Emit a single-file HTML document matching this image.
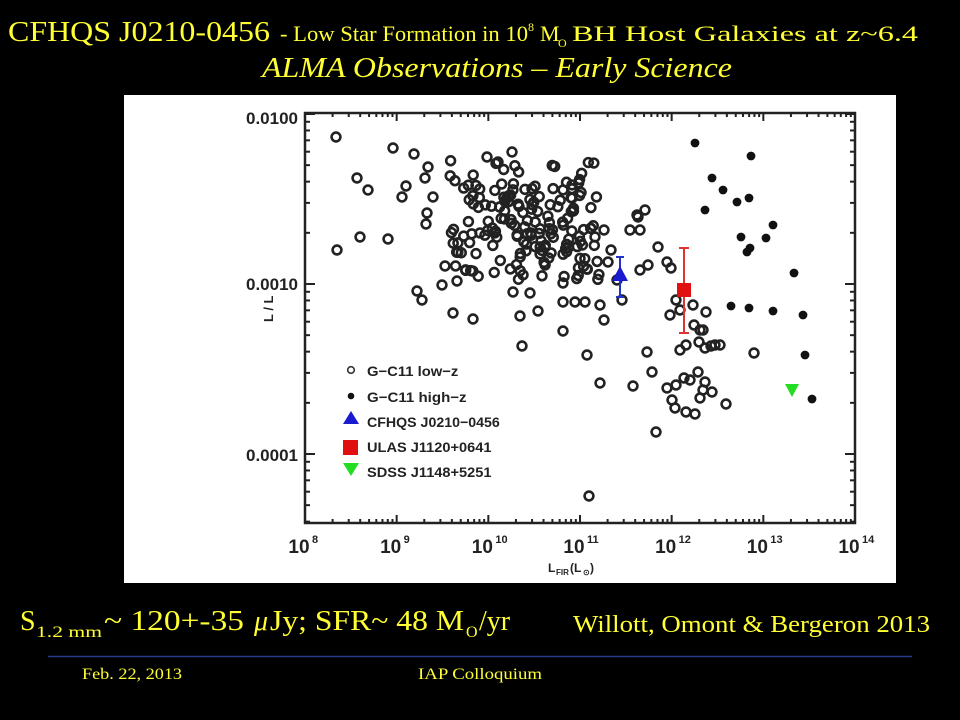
<!DOCTYPE html>
<html><head><meta charset="utf-8"><style>
html,body{margin:0;padding:0;background:#000;width:960px;height:720px;overflow:hidden}
svg{display:block}
.t{font-family:"Liberation Serif",serif;fill:#ffff33}
.a{font-family:"Liberation Sans",sans-serif;font-weight:bold;fill:#222}
</style></head><body>
<svg id="s" width="960" height="720" viewBox="0 0 960 720" xmlns="http://www.w3.org/2000/svg">
<rect width="960" height="720" fill="#000"/>
<text class="t" x="8" y="41" font-size="28" textLength="262" lengthAdjust="spacingAndGlyphs">CFHQS J0210-0456</text>
<text class="t" x="280" y="41" font-size="22" textLength="248" lengthAdjust="spacingAndGlyphs">- Low Star Formation in 10</text>
<text class="t" x="528" y="31" font-size="12">8</text>
<text class="t" x="540" y="41" font-size="22">M</text>
<text class="t" x="558" y="47" font-size="12">O</text>
<text class="t" x="572" y="41" font-size="22" textLength="346" lengthAdjust="spacingAndGlyphs">BH Host Galaxies at z~6.4</text>
<text class="t" x="262" y="77" font-size="28" font-style="italic" textLength="470" lengthAdjust="spacingAndGlyphs">ALMA Observations – Early Science</text>
<rect x="124" y="95" width="772" height="488" fill="#fff"/>
<g id="plot"></g>
<text class="t" x="20" y="630" font-size="28">S</text>
<text class="t" x="36" y="637" font-size="16" textLength="66" lengthAdjust="spacingAndGlyphs">1.2 mm</text>
<text class="t" x="104" y="630" font-size="28" textLength="140" lengthAdjust="spacingAndGlyphs">~ 120+-35</text>
<text class="t" x="254" y="630" font-size="28" font-style="italic">μ</text>
<text class="t" x="270" y="630" font-size="28" textLength="194" lengthAdjust="spacingAndGlyphs">Jy;  SFR~ 48 M</text>
<text class="t" x="466" y="637" font-size="16">O</text>
<text class="t" x="479" y="630" font-size="28">/yr</text>
<text class="t" x="573" y="632" font-size="24" textLength="357" lengthAdjust="spacingAndGlyphs">Willott, Omont &amp; Bergeron 2013</text>
<line x1="48" y1="656.5" x2="912" y2="656.5" stroke="#2a3a8a" stroke-width="1.5"/>
<text class="t" x="82" y="679" font-size="16" textLength="100" lengthAdjust="spacingAndGlyphs">Feb. 22, 2013</text>
<text class="t" x="418" y="679" font-size="16" textLength="124" lengthAdjust="spacingAndGlyphs">IAP Colloquium</text>
</svg>
<script>
var NS="http://www.w3.org/2000/svg",g=document.getElementById("plot");
function el(n,a,p){var e=document.createElementNS(NS,n);for(var k in a)e.setAttribute(k,a[k]);(p||g).appendChild(e);return e;}
var L=305,R=855,T=113,B=523,dx=(R-L)/6;
function yv(lv){return 284-(lv+3)*170;}
for(var d=0;d<6;d++){for(var m=1;m<10;m++){var x=L+dx*(d+Math.log10(m));var h=m==1?8:4;
el("line",{x1:x,y1:B,x2:x,y2:B-h,stroke:"#222","stroke-width":2});el("line",{x1:x,y1:T,x2:x,y2:T+h,stroke:"#222","stroke-width":2});}}
for(var e=-6;e<-1;e++){for(var m=1;m<10;m++){var y=yv(e+Math.log10(m));if(y<T||y>B)continue;var h=m==1?10:5;
el("line",{x1:L,y1:y,x2:L+h,y2:y,stroke:"#222","stroke-width":2});el("line",{x1:R,y1:y,x2:R-h,y2:y,stroke:"#222","stroke-width":2});}}
el("rect",{x:L,y:T,width:R-L,height:B-T,fill:"none",stroke:"#222","stroke-width":2.5});
var yl=[["0.0100",124],["0.0010",290],["0.0001",461]];
yl.forEach(function(a){var t=el("text",{x:298,y:a[1],"class":"a","font-size":17,"text-anchor":"end"});t.textContent=a[0];});
for(var d=0;d<=6;d++){var t=el("text",{x:L+dx*d-6,y:553,"class":"a","font-size":19,"text-anchor":"middle"});t.textContent="10";
var s=el("text",{x:L+dx*d+7,y:543,"class":"a","font-size":11});s.textContent=String(8+d);}
var xl=el("text",{x:548,y:572,"class":"a","font-size":12});xl.textContent="L";var xs=el("text",{x:556,y:575,"class":"a","font-size":8});xs.textContent="FIR";
var xl2=el("text",{x:570,y:572,"class":"a","font-size":12});xl2.textContent="(L";var xs2=el("text",{x:583,y:575,"class":"a","font-size":8});xs2.textContent="⊙";var xl3=el("text",{x:590,y:572,"class":"a","font-size":12});xl3.textContent=")";
var yt=el("text",{x:0,y:0,"class":"a","font-size":13,transform:"translate(273,322) rotate(-90)"});yt.textContent="L    /  L";
var op=[[336,137],[357,178],[368,190],[337,250],[360,237],[388,239],[393,148],[414,154],[402,197],[406,186],[428,167],[425,178],[433,197],[427,213],[426,224],[417,291],[422,300],[445,266],[442,285],[453,313],[457,281],[473,319],[487,157],[498,162],[512,152],[522,346],[520,316],[538,311],[563,331],[513,292],[530,293],[563,283],[563,302],[575,302],
[754,353],[726,404],[656,432],[589,496],[600,383],[587,355],[647,352],[652,372],[633,386],[585,302],[600,305],[604,320],[622,300],[640,270],[648,265],[667,262],[671,268],[658,247],[637,215],[645,210],[640,230],[638,217],[680,310],[670,315],[676,300],[693,305],[694,325],[700,330],[706,312],[699,342],[705,348],[703,330],[715,345],[720,345],[711,346],[686,345],[680,350],[684,378],[690,380],[698,372],[703,390],[705,382],[700,398],[712,392],[667,388],[672,400],[675,408],[686,412],[695,414],[676,385],[604,230],[595,237],[608,262],[617,280],[611,250],[630,230]];
var st={fill:"none",stroke:"#222","stroke-width":2.6};
op.forEach(function(p){el("circle",{cx:p[0],cy:p[1],r:4.4,fill:"none",stroke:"#222","stroke-width":2.6});});
var sd=7;function rnd(){sd=(sd*16807)%2147483647;return sd/2147483647;}
for(var i=0;i<170;i++){var x=450+rnd()*150,y=160+rnd()*120;if(rnd()<0.3){y=190+rnd()*70;x=470+rnd()*110;}
el("circle",{cx:x,cy:y,r:4.4,fill:"none",stroke:"#222","stroke-width":2.6});}
var fp=[[695,143],[751,156],[712,178],[723,190],[737,202],[749,198],[705,210],[773,225],[741,237],[766,238],[750,248],[747,252],[794,273],[731,306],[749,308],[773,311],[803,315],[805,355],[812,399]];
fp.forEach(function(p){el("circle",{cx:p[0],cy:p[1],r:4.4,fill:"#111"});});
el("line",{x1:620,y1:257,x2:620,y2:297,stroke:"#2233cc","stroke-width":2});el("line",{x1:616,y1:297,x2:624,y2:297,stroke:"#2233cc","stroke-width":2});el("line",{x1:616,y1:257,x2:624,y2:257,stroke:"#2233cc","stroke-width":2});
el("polygon",{points:"620,266 628,281 612,281",fill:"#1a1ad0"});
el("line",{x1:684,y1:248,x2:684,y2:333,stroke:"#dd3333","stroke-width":2});el("line",{x1:679,y1:248,x2:689,y2:248,stroke:"#dd3333","stroke-width":2});el("line",{x1:679,y1:333,x2:689,y2:333,stroke:"#dd3333","stroke-width":2});
el("rect",{x:677,y:283,width:14,height:14,fill:"#e01010"});
el("polygon",{points:"785,384 799,384 792,397",fill:"#22dd22"});
var lg=[["G−C11 low−z",371],["G−C11 high−z",397],["CFHQS J0210−0456",422],["ULAS J1120+0641",447],["SDSS J1148+5251",472]];
el("circle",{cx:351,cy:370,r:3.3,fill:"none",stroke:"#333","stroke-width":1.6});el("circle",{cx:351,cy:396,r:3.3,fill:"#111"});
el("polygon",{points:"351,411 359,424 343,424",fill:"#1a1ad0"});el("rect",{x:343,y:440,width:15,height:15,fill:"#e01010"});el("polygon",{points:"343,463 359,463 351,476",fill:"#22dd22"});
lg.forEach(function(a){var t=el("text",{x:367,y:a[1]+5,"class":"a","font-size":14,textLength:a[0].length*8.3,lengthAdjust:"spacingAndGlyphs"});t.textContent=a[0];});
</script>
</body></html>
